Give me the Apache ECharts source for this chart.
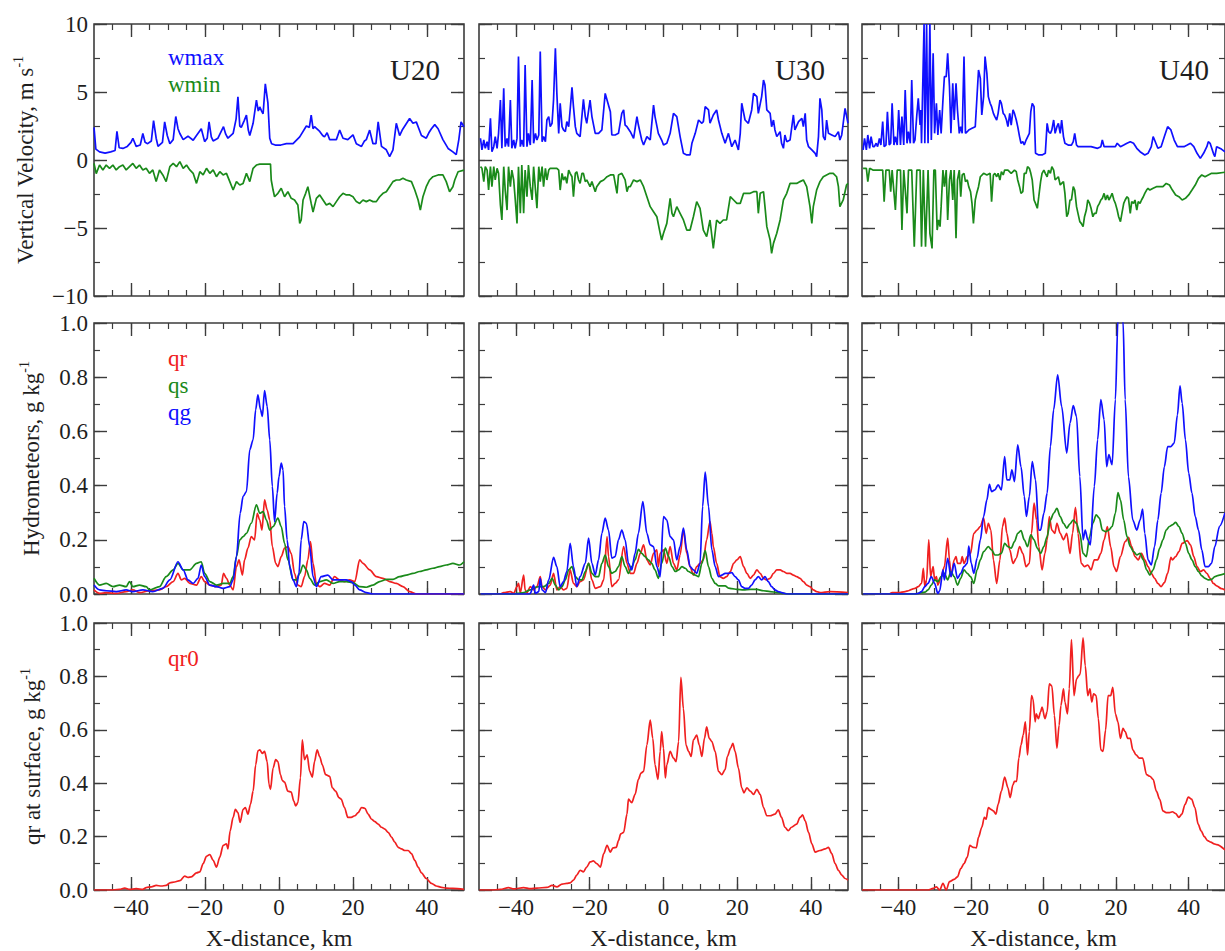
<!DOCTYPE html>
<html>
<head>
<meta charset="utf-8">
<script src="https://cdn.jsdelivr.net/npm/echarts@6/dist/echarts.min.js"></script>
<style>html,body{margin:0;padding:0;background:#fff;}#c{width:1225px;height:951px;}</style>
</head>
<body>
<div id="c"></div>
<script>
// ---------- tick labels / axis settings ----------
const X_LABELS = [-40, -20, 0, 20, 40];
const PANEL_TITLES = ['U20', 'U30', 'U40'];
const ROW_NAMES = ['Vertical Velocity, m s', 'Hydrometeors, g kg', 'qr at surface, g kg'];
const X_NAME = 'X-distance, km';

// ---------- Row 1: vertical velocity (x km, m/s) ----------
const u20_wmax = [[-50,2.4],[-49.5,0.8],[-48.5,0.6],[-47,0.5],[-45.5,0.6],[-44.3,0.7],[-43.8,2.1],[-43.2,0.9],[-42.2,0.85],[-41,1.0],[-40,1.3],[-39.5,1.6],[-38.6,1.0],[-37.5,1.1],[-36.8,1.95],[-36.2,1.3],[-35.5,1.2],[-34.5,1.4],[-33.9,2.9],[-33.2,1.6],[-32.7,1.0],[-31.5,1.3],[-30.9,2.8],[-30.2,1.8],[-29.5,1.2],[-28.6,1.5],[-27.9,3.2],[-27.3,2.3],[-26.8,1.95],[-25.9,1.5],[-24.6,1.75],[-23.2,1.45],[-22.3,1.8],[-21,2.3],[-20.1,1.35],[-19.4,1.6],[-18.9,2.8],[-18.3,1.7],[-17.8,1.4],[-16.5,1.6],[-15,2.45],[-14.4,1.9],[-13.8,1.6],[-12.4,1.95],[-11.6,3.0],[-11.1,4.65],[-10.6,2.5],[-10.2,2.4],[-9.4,2.9],[-8.8,3.3],[-8.3,2.2],[-7.9,1.8],[-7,2.7],[-6.1,4.4],[-5.6,3.6],[-5.2,3.9],[-4.7,3.6],[-4.3,3.4],[-3.7,5.6],[-3.0,4.2],[-2.5,1.6],[-2.0,1.2],[-1.0,1.1],[0.5,1.1],[2,1.2],[3.8,1.2],[5.6,1.7],[7.4,2.5],[8.2,2.4],[8.7,3.3],[9.2,2.3],[9.6,2.45],[11,2.1],[11.8,1.8],[12.3,1.7],[13,2.0],[13.7,1.5],[14.6,1.5],[15.5,1.5],[16.4,2.2],[17.3,1.6],[18.6,1.5],[20,1.85],[20.9,1.2],[22.3,1.0],[23.1,1.4],[23.6,1.5],[24.5,2.2],[25.4,1.2],[26.2,1.2],[26.8,2.8],[27.7,1.0],[29,0.75],[29.9,0.25],[30.8,0.75],[31.7,2.7],[32.6,1.8],[33.3,2.2],[34,2.5],[35.3,3.05],[36.2,2.7],[37.1,2.8],[38.5,1.8],[39.8,1.6],[40.5,2.0],[41.2,2.3],[42.1,2.6],[43,2.3],[44.3,1.5],[45.7,0.85],[47,0.6],[47.9,0.4],[48.6,1.5],[49.2,2.8],[50,2.45]];
const u20_wmin = [[-50,-0.25],[-49.4,-1.0],[-48.5,-0.37],[-47.6,-0.73],[-46.7,-0.37],[-45.8,-0.61],[-44.9,-0.37],[-44,-0.73],[-43.1,-0.49],[-42.2,-0.37],[-41.3,-0.73],[-40.4,-0.49],[-39.5,-0.25],[-38.6,-0.61],[-37.7,-0.37],[-36.8,-0.73],[-35.9,-0.61],[-35,-0.98],[-34.1,-0.73],[-33.2,-1.59],[-32.3,-0.73],[-31.4,-1.1],[-30.5,-1.59],[-29.5,-0.49],[-28.6,-0.25],[-27.7,-0.49],[-26.8,-0.12],[-25.9,-0.61],[-25,-0.37],[-24.1,-0.73],[-23.2,-0.98],[-22.3,-1.72],[-21.4,-0.86],[-20.5,-1.1],[-19.6,-0.61],[-18.7,-0.98],[-17.8,-0.73],[-16.9,-1.23],[-16,-0.86],[-15.1,-1.1],[-14.2,-0.98],[-13.3,-1.59],[-12.4,-2.21],[-11.5,-1.59],[-10.6,-1.84],[-9.7,-1.72],[-8.8,-0.98],[-7.9,-1.59],[-7,-0.61],[-6.1,-0.37],[-5.2,-0.3],[-3.4,-0.3],[-2.3,-0.3],[-2.1,-1.47],[-1.6,-2.21],[-1.2,-2.7],[-0.3,-2.45],[0.6,-2.08],[1.5,-2.7],[2.4,-2.33],[3.3,-2.82],[4.2,-2.94],[5.1,-3.31],[5.6,-4.66],[6,-4.41],[6.5,-2.94],[7.2,-2.45],[7.8,-1.96],[8.7,-3.19],[9.2,-3.82],[10.1,-2.82],[11,-2.57],[11.9,-2.94],[12.8,-3.31],[13.7,-3.19],[14.6,-3.43],[15.5,-3.06],[16.4,-2.7],[17.3,-2.45],[18.2,-2.57],[19.1,-2.57],[20,-2.7],[20.9,-3.06],[21.8,-3.19],[22.7,-2.94],[23.6,-3.06],[24.5,-2.94],[25.4,-3.06],[26.3,-3.06],[27.2,-2.7],[28.1,-2.45],[29,-2.33],[29.9,-1.96],[30.8,-1.59],[31.7,-1.47],[32.6,-1.47],[33.5,-1.35],[34.4,-1.47],[35.8,-1.59],[36.7,-2.21],[37.6,-2.94],[38.2,-3.68],[38.9,-2.7],[39.8,-1.96],[40.7,-1.47],[41.6,-1.23],[43,-1.1],[44.3,-1.1],[45.2,-1.59],[46.1,-2.33],[47,-1.96],[47.5,-1.47],[48.4,-0.86],[50,-0.74]];
const u30_wmax = [[-49.6,1.6],[-49.2,0.74],[-48.7,1.47],[-48.3,0.86],[-47.8,1.35],[-47.4,0.74],[-46.9,3.06],[-46.5,0.61],[-46.0,0.98],[-45.6,1.72],[-45.1,0.86],[-44.7,1.96],[-44.2,4.41],[-43.8,0.86],[-43.3,5.27],[-42.9,0.98],[-42.4,1.59],[-42.0,0.98],[-41.5,4.41],[-41.1,0.86],[-40.6,1.47],[-40.2,0.86],[-39.7,1.59],[-39.3,7.6],[-38.8,0.98],[-38.4,1.47],[-37.9,0.98],[-37.5,6.99],[-37.0,0.98],[-36.6,1.96],[-36.1,1.1],[-35.6,5.88],[-35.2,1.23],[-34.7,1.96],[-34.3,1.47],[-33.8,1.84],[-33.4,7.97],[-32.9,1.35],[-32.5,1.72],[-32.0,1.35],[-31.6,2.94],[-31.1,3.19],[-30.7,2.45],[-30.2,2.7],[-29.8,4.41],[-29.3,8.21],[-28.9,4.9],[-28.4,1.96],[-28.0,4.17],[-27.5,2.45],[-27.1,2.21],[-26.6,2.08],[-26.2,2.82],[-25.7,2.45],[-25.3,3.68],[-24.8,5.34],[-24.4,3.92],[-23.9,2.45],[-23.5,1.96],[-22.6,1.72],[-21.7,4.46],[-21.2,3.19],[-20.8,2.7],[-19.9,4.41],[-19.4,3.19],[-18.5,1.96],[-17.6,1.96],[-16.7,2.21],[-15.8,4.9],[-15.3,4.41],[-14.4,3.55],[-14.0,1.84],[-13.1,1.84],[-12.2,1.96],[-11.3,3.43],[-10.8,3.68],[-10.4,2.57],[-9.9,2.45],[-9.0,2.08],[-8.1,1.59],[-7.2,3.19],[-6.8,2.57],[-5.9,1.47],[-5.4,1.1],[-4.5,1.72],[-3.6,1.47],[-2.7,4.04],[-2.3,3.19],[-1.4,1.96],[-0.5,1.47],[0,1.1],[0.9,1.23],[1.8,1.96],[2.7,3.43],[3.6,3.19],[4.5,1.72],[5.4,0.49],[6.3,0.37],[7.2,0.37],[7.7,1.23],[8.6,1.96],[9.5,2.94],[10.4,2.7],[10.8,2.82],[11.3,3.92],[12.2,3.68],[12.6,2.7],[13.5,3.31],[14.4,3.68],[14.9,2.94],[15.8,1.96],[16.7,1.23],[17.6,1.96],[18.5,0.98],[19.4,1.47],[20.3,0.74],[20.8,1.96],[21.2,4.17],[22.1,2.94],[23.0,2.7],[23.9,3.68],[24.4,4.9],[25.3,4.66],[25.7,3.43],[26.6,4.66],[27.1,5.88],[27.5,5.51],[28.0,3.68],[28.9,3.43],[29.3,2.45],[29.8,2.94],[30.2,2.21],[30.7,1.72],[31.6,2.08],[32.0,1.23],[32.5,0.86],[32.9,1.84],[33.4,1.35],[34.3,1.47],[35.2,3.31],[35.6,2.21],[36.6,2.82],[37.5,3.06],[37.9,2.45],[38.4,3.43],[38.8,1.47],[39.3,0.98],[40.2,0.74],[41.1,0.49],[41.5,0.25],[42.0,1.72],[42.4,4.53],[42.9,3.68],[43.3,1.72],[43.8,1.47],[44.2,2.94],[44.7,1.96],[45.6,1.84],[46.5,1.72],[47.4,2.08],[47.8,1.47],[48.3,1.84],[48.7,2.7],[49.2,3.8],[50.0,2.7]];
const u30_wmin = [[-49.6,-0.49],[-49.2,-0.61],[-48.7,-1.59],[-48.3,-0.49],[-47.8,-0.74],[-47.4,-2.21],[-46.9,-0.49],[-46.5,-1.96],[-46.0,-0.49],[-45.6,-1.47],[-45.1,-0.61],[-44.7,-0.98],[-44.2,-3.31],[-43.8,-4.41],[-43.3,-0.49],[-42.9,-2.21],[-42.4,-3.68],[-42.0,-0.49],[-41.5,-1.96],[-41.1,-0.74],[-40.6,-1.47],[-40.2,-2.82],[-39.7,-4.66],[-39.3,-0.49],[-38.8,-3.92],[-38.4,-0.37],[-37.9,-3.92],[-37.5,-0.74],[-37.0,-2.7],[-36.6,-0.37],[-36.1,-1.96],[-35.6,-2.94],[-35.2,-0.49],[-34.7,-2.21],[-34.3,-3.55],[-33.8,-0.49],[-33.4,-1.59],[-32.9,-0.49],[-32.5,-1.96],[-32.0,-0.61],[-31.6,-1.47],[-31.1,-0.74],[-30.7,-0.61],[-29.8,-0.61],[-28.9,-0.61],[-28.4,-0.74],[-28.0,-2.21],[-27.5,-0.98],[-27.1,-1.47],[-26.6,-1.23],[-26.2,-1.72],[-25.7,-0.74],[-25.3,-0.98],[-24.8,-1.23],[-24.4,-2.7],[-23.9,-0.98],[-23.5,-0.86],[-23.0,-1.47],[-22.6,-1.72],[-22.1,-0.98],[-21.7,-0.98],[-21.2,-1.59],[-20.8,-1.47],[-19.9,-1.96],[-19.4,-1.59],[-18.5,-2.33],[-18.1,-1.96],[-17.1,-1.59],[-16.2,-1.47],[-15.3,-1.23],[-14.4,-1.1],[-13.5,-1.1],[-12.6,-2.45],[-12.2,-1.1],[-11.3,-0.98],[-10.4,-1.47],[-9.9,-2.33],[-9.5,-1.96],[-9.0,-1.96],[-8.1,-1.47],[-7.2,-1.59],[-6.3,-1.47],[-5.4,-1.96],[-4.5,-2.7],[-3.6,-3.43],[-2.7,-3.8],[-1.8,-4.17],[-0.9,-5.39],[-0.5,-5.88],[0,-5.39],[0.9,-4.66],[1.8,-2.82],[2.3,-3.92],[2.7,-4.17],[3.6,-3.43],[4.5,-3.92],[5.4,-4.41],[6.3,-5.15],[7.2,-5.15],[8.1,-4.17],[9.0,-3.06],[9.9,-3.55],[10.8,-5.15],[11.7,-5.64],[12.6,-4.41],[13.5,-6.5],[14.4,-4.41],[15.3,-4.66],[16.2,-4.41],[17.1,-4.41],[18.1,-2.7],[19.0,-2.94],[19.9,-3.19],[20.8,-3.19],[21.7,-2.45],[22.6,-2.45],[23.5,-2.45],[24.4,-2.33],[25.3,-2.33],[25.7,-3.92],[26.2,-2.45],[27.1,-2.33],[27.5,-3.43],[28.0,-4.9],[28.9,-5.88],[29.3,-6.86],[29.8,-6.13],[30.7,-5.39],[31.6,-4.41],[32.5,-2.94],[33.4,-2.45],[34.3,-1.72],[35.2,-1.72],[36.1,-1.72],[37.0,-1.59],[37.9,-1.47],[38.8,-1.96],[39.7,-3.43],[40.2,-4.66],[40.6,-3.43],[41.5,-2.21],[42.4,-1.59],[43.3,-1.23],[44.2,-1.1],[45.1,-0.98],[46.0,-0.98],[46.9,-1.23],[47.4,-1.96],[47.8,-3.43],[48.7,-2.94],[49.6,-1.84],[50,-1.72]];
const u40_wmax = [[-49.7,0.74],[-49.3,1.59],[-48.8,0.74],[-48.4,1.84],[-47.9,0.86],[-47.5,1.72],[-47.0,0.98],[-46.6,0.98],[-46.1,1.23],[-45.7,0.98],[-45.2,1.59],[-44.8,1.1],[-44.3,2.82],[-43.9,0.98],[-43.4,1.1],[-43.0,3.55],[-42.5,1.1],[-42.1,1.23],[-41.7,4.17],[-41.2,1.1],[-40.8,1.72],[-40.3,1.1],[-39.9,3.68],[-39.4,1.1],[-39.0,3.19],[-38.5,1.1],[-38.1,5.15],[-37.6,1.23],[-37.2,2.08],[-36.7,1.23],[-36.3,5.88],[-35.8,1.23],[-35.4,1.47],[-34.9,3.31],[-34.5,4.53],[-34.0,2.57],[-33.8,3.68],[-33.6,1.23],[-33.1,7.6],[-32.9,10],[-32.7,1.23],[-32.2,10],[-32.0,4.41],[-31.8,1.23],[-31.3,10],[-30.9,1.47],[-30.4,7.84],[-30.0,1.96],[-29.5,4.17],[-29.1,1.84],[-28.6,3.68],[-28.2,1.96],[-27.7,4.41],[-27.3,6.13],[-26.8,6.13],[-26.4,7.84],[-25.9,5.39],[-25.5,1.96],[-25.0,5.64],[-24.6,2.94],[-24.1,5.64],[-23.7,3.68],[-23.2,1.96],[-22.8,2.45],[-22.4,1.96],[-21.9,7.6],[-21.5,1.96],[-21.0,2.08],[-20.6,2.21],[-19.7,2.33],[-18.8,2.45],[-17.9,6.62],[-17.4,6.0],[-17.0,3.31],[-16.5,4.66],[-16.1,7.6],[-15.6,6.37],[-15.2,4.66],[-14.7,4.17],[-14.3,3.92],[-13.8,3.43],[-13.4,3.19],[-12.9,2.94],[-12.5,3.43],[-12.0,4.41],[-11.6,4.17],[-11.1,3.43],[-10.7,3.31],[-10.2,2.94],[-9.8,2.45],[-9.3,3.43],[-8.9,2.57],[-8.4,3.68],[-8.0,3.43],[-7.5,2.94],[-7.1,2.45],[-6.6,1.72],[-6.2,1.23],[-5.7,1.35],[-5.3,1.1],[-4.8,1.47],[-3.9,1.96],[-3.5,3.55],[-3.1,4.17],[-2.6,3.92],[-2.2,0.49],[-1.3,0.37],[-0.4,0.37],[0.5,0.49],[1.0,2.7],[1.4,2.08],[1.9,1.96],[2.3,2.21],[2.8,2.94],[3.2,1.96],[3.7,2.45],[4.1,2.7],[4.6,1.96],[5.0,2.94],[5.5,1.72],[5.9,1.23],[6.8,1.1],[7.7,1.1],[8.2,1.35],[8.6,1.96],[9.1,1.1],[9.5,0.98],[11.3,0.98],[13.1,0.98],[14.9,0.86],[15.8,0.98],[16.2,1.47],[16.7,0.98],[18.5,0.98],[19.8,0.98],[20.3,1.23],[21.2,0.98],[22.1,1.1],[23.0,1.23],[23.9,1.35],[24.8,1.23],[25.7,0.86],[26.6,0.61],[27.9,0.37],[28.8,0.49],[29.7,0.98],[30.2,1.72],[30.6,1.47],[31.5,0.86],[32.4,0.98],[33.3,1.72],[34.2,2.45],[35.1,2.21],[36.0,1.47],[36.9,0.98],[37.8,0.98],[38.7,0.98],[39.6,1.1],[40.5,1.23],[41.4,0.98],[42.3,0.49],[43.2,0.12],[44.1,0.49],[45.0,0.98],[45.4,1.35],[45.9,1.23],[46.8,0.49],[47.2,0.25],[47.7,0.98],[49,0.8],[50,0.6]];
const u40_wmin = [[-49.7,-0.61],[-48.8,-0.61],[-48.4,-1.59],[-47.9,-0.61],[-47.0,-0.74],[-46.1,-0.74],[-45.2,-0.74],[-44.3,-0.74],[-43.9,-3.06],[-43.4,-0.74],[-42.5,-0.74],[-42.1,-2.33],[-41.7,-0.74],[-40.8,-3.68],[-40.3,-0.74],[-39.4,-0.74],[-39.0,-5.15],[-38.5,-0.74],[-37.6,-3.92],[-37.2,-0.74],[-36.3,-0.74],[-35.6,-6.37],[-34.9,-0.74],[-34.0,-0.74],[-33.6,-6.37],[-33.1,-0.74],[-32.5,-6.37],[-31.8,-0.74],[-31.3,-5.39],[-30.7,-6.5],[-30.2,-0.74],[-29.8,-0.74],[-29.3,-5.15],[-28.9,-4.41],[-28.5,-4.9],[-28.2,-3.43],[-27.7,-0.74],[-27.3,-1.96],[-26.8,-0.74],[-26.4,-4.41],[-25.9,-1.47],[-25.5,-0.74],[-25.0,-2.94],[-24.6,-0.74],[-24.1,-5.76],[-23.7,-1.47],[-23.2,-0.74],[-22.8,-2.7],[-22.4,-1.1],[-21.9,-0.98],[-21.5,-1.59],[-21.0,-1.47],[-20.6,-1.96],[-20.1,-2.33],[-19.7,-3.19],[-19.3,-4.66],[-18.8,-2.94],[-18.4,-2.45],[-17.9,-1.96],[-17.4,-1.23],[-16.5,-0.98],[-15.6,-1.1],[-14.7,-0.98],[-14.3,-3.06],[-13.8,-1.1],[-13.4,-0.98],[-12.9,-1.23],[-12.5,-0.98],[-12.0,-1.47],[-11.6,-0.86],[-11.1,-1.1],[-10.7,-0.74],[-9.8,-0.74],[-8.9,-0.98],[-8.0,-0.74],[-7.5,-0.86],[-7.1,-1.47],[-6.6,-1.96],[-6.2,-2.45],[-5.7,-2.33],[-5.3,-0.98],[-4.8,-0.98],[-4.4,-0.49],[-3.9,-0.61],[-3.5,-0.98],[-3.1,-1.47],[-2.6,-2.94],[-2.2,-3.19],[-1.7,-3.55],[-1.3,-2.7],[-0.8,-1.59],[-0.4,-0.98],[0.1,-0.74],[0.5,-0.98],[1.0,-1.23],[1.4,-0.74],[1.9,-0.98],[2.3,-0.49],[2.8,-0.74],[3.2,-1.47],[4.1,-1.23],[4.6,-1.84],[5.0,-1.72],[5.5,-1.59],[5.9,-2.45],[6.4,-4.17],[6.8,-3.92],[7.3,-2.94],[7.7,-2.94],[8.2,-1.96],[8.6,-2.21],[9.1,-3.43],[9.5,-3.92],[10.0,-4.53],[10.4,-4.66],[10.9,-4.9],[11.3,-4.17],[11.8,-3.68],[12.2,-2.94],[12.7,-3.19],[13.1,-3.55],[13.6,-4.17],[14.0,-3.92],[14.5,-3.92],[14.9,-3.43],[15.4,-3.19],[15.8,-2.94],[16.2,-2.82],[16.7,-2.45],[17.1,-2.94],[17.6,-2.57],[18.0,-2.94],[18.5,-2.7],[18.9,-2.45],[19.4,-2.94],[19.8,-3.19],[20.3,-3.68],[20.7,-4.17],[21.2,-4.53],[21.6,-3.92],[22.1,-3.19],[22.5,-2.94],[23.0,-2.7],[23.4,-2.82],[23.9,-3.92],[24.3,-3.06],[24.8,-3.19],[25.2,-2.94],[25.7,-3.68],[26.1,-3.06],[26.6,-3.19],[27.0,-2.94],[27.5,-2.7],[27.9,-2.45],[28.4,-2.21],[28.8,-2.08],[29.3,-2.21],[30.2,-2.08],[31.1,-1.96],[32.0,-1.96],[32.9,-1.96],[33.8,-1.72],[34.7,-1.84],[35.5,-2.21],[36.4,-2.57],[37.3,-2.7],[38.2,-2.94],[39.1,-2.82],[40.0,-2.57],[40.9,-2.21],[41.8,-1.84],[42.7,-1.35],[43.6,-1.1],[44.5,-1.23],[45.4,-1.1],[46.3,-0.98],[47.2,-0.98],[47.7,-0.98],[50,-0.9]];

// ---------- Row 2: hydrometeors (x km, g/kg) ----------
const u20_qr = [[-50,0.015],[-48.5,0.002],[-46.7,0.005],[-44,0.002],[-41.3,0.009],[-39.5,0.015],[-37.7,0.005],[-35,0.012],[-32.3,0.015],[-30.5,0.027],[-28.6,0.046],[-27.3,0.076],[-26.4,0.052],[-25.5,0.058],[-24.1,0.039],[-22.3,0.033],[-21,0.064],[-20.1,0.046],[-18.7,0.033],[-16.9,0.027],[-15.6,0.033],[-15,0.076],[-14.2,0.058],[-13.3,0.033],[-12.4,0.015],[-11.5,0.101],[-10.8,0.126],[-9.9,0.07],[-9.3,0.126],[-8.4,0.169],[-7.5,0.212],[-6.6,0.2],[-5.9,0.298],[-5.2,0.273],[-4.6,0.236],[-3.9,0.347],[-3.2,0.31],[-2.5,0.273],[-1.8,0.175],[-0.9,0.113],[-0.3,0.101],[0.6,0.138],[1.5,0.169],[2.4,0.175],[3.3,0.15],[4.2,0.076],[5.1,0.033],[6,0.027],[6.9,0.064],[7.8,0.126],[8.5,0.193],[9.2,0.113],[10.1,0.039],[11,0.027],[12.3,0.039],[13.7,0.033],[15,0.064],[16.4,0.052],[17.7,0.046],[19.1,0.052],[20.5,0.046],[21.8,0.126],[22.7,0.113],[24.5,0.089],[26.3,0.064],[28.1,0.058],[29.9,0.046],[31.7,0.039],[33.5,0.027],[35.3,0.009],[37.1,0],[50,0]];
const u20_qs = [[-50,0.058],[-48.5,0.033],[-46.7,0.039],[-44.9,0.027],[-43.1,0.033],[-41.3,0.027],[-40.4,0.046],[-39.5,0.027],[-37.7,0.033],[-35.9,0.027],[-35,0.015],[-32.3,0.027],[-30.5,0.064],[-28.6,0.089],[-27.3,0.113],[-25.9,0.089],[-24.1,0.089],[-22.3,0.113],[-21,0.119],[-20.1,0.076],[-18.7,0.046],[-16.9,0.033],[-15.1,0.039],[-13.3,0.039],[-12.4,0.064],[-11.5,0.138],[-10.6,0.2],[-9.7,0.212],[-8.8,0.224],[-7.5,0.261],[-6.1,0.329],[-5.2,0.298],[-4.3,0.304],[-3.4,0.273],[-2.5,0.236],[-1.6,0.249],[-0.3,0.28],[0.6,0.249],[1.5,0.187],[2.4,0.126],[3.8,0.052],[4.7,0.052],[5.6,0.076],[6.5,0.107],[7.4,0.089],[8.3,0.058],[9.6,0.033],[11,0.046],[12.8,0.052],[14.6,0.039],[16.4,0.046],[18.2,0.046],[20,0.042],[21.8,0.027],[23.6,0.025],[25.4,0.033],[27.2,0.046],[29,0.054],[30.8,0.054],[32.6,0.064],[34.4,0.07],[36.2,0.076],[38,0.083],[39.8,0.089],[41.6,0.095],[43.4,0.101],[45.2,0.107],[47,0.113],[48.8,0.107],[50,0.119]];
const u20_qg = [[-50,0.033],[-48.5,0.015],[-46.7,0.012],[-44,0.009],[-41.3,0.015],[-39.5,0.009],[-36.8,0.015],[-34.1,0.009],[-31.4,0.021],[-29.5,0.052],[-27.3,0.119],[-25.9,0.089],[-24.6,0.052],[-23.2,0.039],[-21.9,0.058],[-21,0.107],[-20.1,0.064],[-18.7,0.033],[-16.9,0.027],[-15.1,0.021],[-13.3,0.027],[-12.4,0.052],[-11.5,0.138],[-10.5,0.298],[-9.7,0.36],[-8.8,0.378],[-7.9,0.532],[-7,0.569],[-6.3,0.68],[-5.7,0.735],[-5.0,0.68],[-4.5,0.655],[-3.9,0.751],[-3.2,0.692],[-2.5,0.569],[-1.8,0.397],[-1.2,0.267],[-0.5,0.372],[0,0.433],[0.6,0.483],[1.1,0.458],[1.5,0.323],[2.2,0.2],[2.9,0.101],[3.8,0.052],[4.7,0.027],[5.4,0.076],[6,0.2],[6.7,0.267],[7.4,0.261],[8.3,0.175],[9.2,0.064],[10.1,0.027],[11.4,0.064],[13.2,0.07],[14.6,0.052],[16.4,0.052],[18.2,0.052],[19.5,0.046],[20.5,0.033],[21.8,0.015],[23.6,0.005],[25.4,0],[50,0]];
const u30_qr = [[-49.6,0],[-44.2,0],[-43.3,0.005],[-41.5,0.009],[-40.6,0.002],[-39.7,0.027],[-39.3,0.039],[-38.8,0.005],[-37.9,0.07],[-37.5,0.015],[-37,0.005],[-36.1,0.027],[-35.2,0.015],[-34.3,0.027],[-33.4,0.064],[-32.9,0.027],[-32,0.015],[-30.7,0.033],[-29.8,0.076],[-28.9,0.015],[-28,0.027],[-27.1,0.015],[-26.2,0.021],[-25.3,0.089],[-24.4,0.039],[-23.5,0.027],[-22.6,0.046],[-21.7,0.052],[-20.3,0.113],[-19.4,0.052],[-18.5,0.021],[-17.1,0.027],[-16.2,0.052],[-15.3,0.212],[-14.9,0.138],[-14,0.027],[-13.1,0.039],[-12.2,0.052],[-10.8,0.175],[-9.9,0.113],[-9,0.076],[-8.1,0.076],[-7.2,0.113],[-6.3,0.15],[-5.4,0.181],[-4.5,0.126],[-3.6,0.107],[-2.7,0.15],[-1.8,0.163],[-1.4,0.101],[-0.9,0.15],[0,0.163],[0.9,0.113],[1.8,0.175],[2.7,0.113],[3.6,0.089],[4.5,0.144],[5.4,0.236],[6.3,0.15],[7.2,0.101],[8.1,0.07],[9,0.101],[9.9,0.113],[10.8,0.126],[11.7,0.2],[12.6,0.267],[13.1,0.224],[13.5,0.175],[14.4,0.113],[15.3,0.064],[16.2,0.058],[17.1,0.064],[18.1,0.083],[19,0.113],[19.9,0.126],[20.8,0.138],[21.7,0.101],[22.6,0.076],[23.5,0.058],[24.4,0.07],[25.3,0.089],[26.2,0.076],[27.1,0.058],[27.9,0.052],[28.9,0.058],[29.8,0.076],[30.7,0.089],[31.6,0.089],[32.5,0.083],[33.4,0.076],[34.3,0.076],[35.2,0.07],[36.1,0.064],[37,0.058],[37.9,0.046],[38.8,0.033],[39.7,0.027],[40.6,0.015],[41.5,0.009],[42.4,0.005],[45.1,0.009],[50,0.005]];
const u30_qs = [[-49.6,0],[-40.6,0],[-39.7,0.002],[-37.9,0.005],[-36.1,0.015],[-34.7,0.025],[-33.8,0.027],[-32.5,0.027],[-31.1,0.039],[-30.2,0.058],[-29.3,0.033],[-28.4,0.015],[-27.5,0.027],[-26.6,0.052],[-25.7,0.089],[-24.8,0.101],[-23.9,0.064],[-23,0.052],[-22.1,0.052],[-21.2,0.083],[-20.3,0.113],[-19.4,0.076],[-18.5,0.064],[-17.6,0.064],[-16.7,0.113],[-15.8,0.144],[-14.9,0.101],[-14,0.076],[-13.1,0.083],[-12.2,0.101],[-11.3,0.138],[-10.4,0.101],[-9.5,0.076],[-8.6,0.101],[-7.7,0.126],[-6.8,0.165],[-5.9,0.15],[-5,0.138],[-4.1,0.126],[-3.2,0.113],[-2.3,0.089],[-1.4,0.058],[-0.5,0.113],[0.5,0.169],[1.4,0.138],[2.3,0.101],[3.2,0.083],[4.1,0.089],[5,0.101],[5.9,0.095],[6.8,0.083],[7.7,0.076],[8.6,0.07],[9.5,0.064],[10.4,0.113],[11.3,0.16],[12.2,0.101],[13.1,0.058],[14,0.039],[14.9,0.03],[15.8,0.03],[16.7,0.03],[17.6,0.022],[18.5,0.02],[19.9,0.017],[21.7,0.015],[23.5,0.017],[25.3,0.017],[27.1,0.012],[28.9,0.009],[30.7,0.006],[32.5,0.002],[34.3,0],[50,0]];
const u30_qg = [[-49.6,0],[-36.6,0],[-36.1,0.002],[-35.2,0.033],[-34.7,0.002],[-33.8,0.009],[-33.4,0.058],[-32.9,0.015],[-32,0.005],[-31.1,0.052],[-29.8,0.135],[-28.9,0.101],[-28,0.027],[-27.1,0.046],[-26.2,0.083],[-25.3,0.187],[-24.4,0.101],[-23.5,0.027],[-22.6,0.064],[-21.2,0.113],[-20.3,0.206],[-19.4,0.113],[-18.5,0.07],[-17.6,0.126],[-16.7,0.224],[-15.8,0.28],[-14.9,0.236],[-14,0.132],[-13.1,0.138],[-12.2,0.2],[-11.3,0.236],[-10.4,0.2],[-9.5,0.113],[-8.6,0.089],[-7.7,0.15],[-6.8,0.224],[-5.6,0.341],[-4.5,0.224],[-3.6,0.181],[-2.7,0.175],[-1.8,0.101],[-0.9,0.064],[0,0.286],[0.9,0.273],[1.8,0.212],[2.7,0.2],[3.6,0.126],[4.5,0.175],[5.4,0.243],[6.3,0.163],[7.2,0.101],[8.1,0.089],[9,0.076],[9.9,0.113],[10.6,0.323],[11.3,0.45],[12.2,0.323],[13.1,0.163],[14,0.101],[14.9,0.064],[15.8,0.07],[16.7,0.076],[17.6,0.076],[18.5,0.079],[19.4,0.064],[20.3,0.052],[21.2,0.027],[22.1,0.021],[23,0.021],[23.9,0.033],[24.8,0.052],[25.7,0.064],[26.6,0.052],[27.5,0.064],[28.4,0.046],[29.3,0.027],[30.2,0.015],[31.1,0.009],[32,0.005],[33.4,0],[50,0]];
const u40_qr = [[-49.7,0],[-42.5,0],[-41.7,0.005],[-39.9,0.005],[-38.1,0.009],[-37.2,0.012],[-36.3,0.017],[-35.4,0.021],[-34.5,0.027],[-33.6,0.039],[-33.1,0.095],[-32.7,0.027],[-32.2,0.052],[-31.6,0.2],[-31.1,0.064],[-30.4,0.101],[-30,0.052],[-29.5,0.064],[-29.1,0.033],[-28.2,0.064],[-27.3,0.101],[-26.4,0.206],[-25.9,0.126],[-25.5,0.064],[-24.6,0.126],[-24.1,0.138],[-23.7,0.113],[-22.8,0.113],[-22.4,0.138],[-21.9,0.113],[-21,0.138],[-20.1,0.15],[-19.2,0.224],[-18.3,0.236],[-17.4,0.249],[-16.5,0.28],[-15.8,0.224],[-15.2,0.261],[-14.5,0.236],[-13.8,0.126],[-12.9,0.039],[-12,0.126],[-11.3,0.249],[-10.7,0.28],[-10.1,0.224],[-9.3,0.163],[-8.4,0.113],[-7.5,0.132],[-6.6,0.175],[-5.7,0.15],[-4.8,0.101],[-3.9,0.113],[-3.3,0.224],[-2.6,0.335],[-1.9,0.273],[-1.3,0.175],[-0.4,0.089],[0.4,0.15],[1,0.2],[1.6,0.286],[2.3,0.236],[3.1,0.224],[3.7,0.261],[4.6,0.224],[5.5,0.2],[6.4,0.224],[7.3,0.15],[8,0.224],[8.8,0.32],[9.5,0.224],[10.4,0.113],[11.3,0.101],[12.2,0.107],[13.1,0.089],[14,0.126],[14.9,0.126],[15.8,0.15],[16.7,0.2],[17.6,0.249],[18.5,0.175],[19.4,0.101],[20.1,0.083],[21.2,0.138],[22.5,0.193],[23.4,0.209],[24.3,0.175],[25.2,0.138],[26.1,0.126],[27,0.15],[27.9,0.126],[28.8,0.101],[29.7,0.076],[30.6,0.058],[31.5,0.039],[32.4,0.027],[33.3,0.042],[34.2,0.076],[35.1,0.135],[35.5,0.126],[36.4,0.138],[37.3,0.156],[38.2,0.187],[39.6,0.197],[40.5,0.181],[41.4,0.138],[42.3,0.101],[43.2,0.083],[44.1,0.089],[45,0.076],[45.9,0.058],[46.8,0.039],[47.7,0.03],[49,0.02],[50,0.015]];
const u40_qs = [[-49.7,0],[-35.4,0],[-34.5,0.002],[-33.6,0.005],[-32.7,0.007],[-31.8,0.015],[-30.9,0.033],[-30,0.052],[-29.1,0.046],[-28.2,0.064],[-27.3,0.076],[-26.4,0.052],[-25.5,0.083],[-24.6,0.064],[-23.7,0.033],[-22.8,0.058],[-21.9,0.089],[-21,0.076],[-20.1,0.064],[-19.2,0.039],[-18.3,0.089],[-17.4,0.126],[-16.5,0.156],[-15.2,0.175],[-14.3,0.163],[-13.4,0.144],[-12.5,0.144],[-11.6,0.15],[-10.7,0.187],[-9.8,0.175],[-8.9,0.169],[-8,0.193],[-7.1,0.224],[-6.2,0.234],[-5.3,0.2],[-4.4,0.175],[-3.5,0.218],[-2.6,0.2],[-1.7,0.169],[-0.8,0.15],[0.1,0.175],[1,0.212],[1.9,0.273],[2.8,0.298],[3.7,0.316],[4.6,0.286],[5.5,0.261],[6.4,0.243],[7.3,0.259],[8.2,0.273],[9.1,0.261],[10,0.224],[10.9,0.15],[11.8,0.138],[12.7,0.212],[13.6,0.261],[14.5,0.292],[15.4,0.28],[16.2,0.236],[17.1,0.23],[18,0.236],[18.9,0.249],[19.8,0.298],[20.5,0.374],[21.2,0.347],[22.1,0.273],[23,0.212],[23.9,0.175],[24.8,0.156],[25.7,0.144],[26.6,0.15],[27.5,0.126],[28.4,0.089],[29.3,0.07],[30.2,0.089],[31.1,0.126],[32,0.169],[32.9,0.2],[33.8,0.236],[34.7,0.249],[35.5,0.255],[36.4,0.264],[37.3,0.249],[38.2,0.224],[39.1,0.187],[40,0.15],[40.9,0.126],[41.8,0.101],[42.7,0.083],[43.6,0.067],[44.5,0.058],[45.4,0.052],[46.3,0.054],[47.2,0.064],[48.5,0.07],[50,0.075]];
const u40_qg = [[-49.7,0],[-35.4,0],[-34.5,0.002],[-33.6,0.009],[-32.7,0.027],[-31.8,0.039],[-30.9,0.064],[-30,0.039],[-29.1,0.002],[-28.6,0.012],[-27.7,0.089],[-27.3,0.052],[-26.4,0.132],[-25.5,0.064],[-24.6,0.113],[-23.7,0.058],[-22.8,0.076],[-21.9,0.101],[-21,0.113],[-20.6,0.177],[-19.9,0.113],[-19.2,0.076],[-18.3,0.132],[-17.4,0.2],[-16.5,0.286],[-15.6,0.347],[-14.9,0.405],[-14.3,0.378],[-13.4,0.384],[-12.5,0.403],[-11.6,0.384],[-10.7,0.507],[-10.1,0.421],[-9.3,0.421],[-8.7,0.458],[-8,0.415],[-7.1,0.55],[-6.2,0.47],[-5.3,0.36],[-4.7,0.286],[-3.9,0.36],[-3.1,0.489],[-2.2,0.421],[-1.3,0.236],[-0.8,0.236],[0.1,0.298],[1,0.372],[1.9,0.544],[2.8,0.68],[3.9,0.809],[5,0.692],[6.4,0.52],[7.3,0.631],[8.2,0.695],[9.1,0.655],[10,0.433],[10.9,0.2],[11.5,0.236],[12.2,0.2],[12.9,0.181],[14,0.397],[14.9,0.569],[15.8,0.717],[16.7,0.643],[17.4,0.47],[18,0.514],[18.9,0.477],[19.8,0.717],[20.5,1.01],[21.2,1.09],[21.9,1.01],[22.5,0.717],[23.4,0.433],[24.6,0.273],[25.7,0.236],[26.6,0.273],[27.3,0.313],[27.9,0.224],[28.8,0.126],[29.7,0.107],[30.6,0.175],[31.5,0.273],[32.4,0.372],[33.3,0.47],[34.2,0.544],[35.1,0.544],[36,0.557],[36.9,0.661],[37.6,0.768],[38.2,0.704],[39.1,0.569],[40,0.446],[40.9,0.372],[41.8,0.286],[42.7,0.236],[43.6,0.163],[44.5,0.101],[45.4,0.101],[46.3,0.113],[47.2,0.175],[48.5,0.25],[50,0.3]];

// ---------- Row 3: qr at surface (x km, g/kg) ----------
const u20_qr0 = [[-50,0],[-45.8,0],[-43.1,0.002],[-41.7,0.007],[-40.4,0.002],[-38.6,0.005],[-36.8,0.002],[-35.9,0.009],[-34.5,0.012],[-33.2,0.017],[-31.8,0.015],[-30.5,0.017],[-29.5,0.027],[-28.2,0.03],[-26.8,0.035],[-25.5,0.052],[-24.6,0.047],[-23.7,0.049],[-22.3,0.064],[-21.4,0.068],[-20.5,0.099],[-19.6,0.126],[-18.7,0.133],[-17.8,0.111],[-16.9,0.086],[-16,0.123],[-15.1,0.167],[-14.2,0.173],[-13.8,0.154],[-13.2,0.222],[-12.4,0.272],[-11.8,0.302],[-11.1,0.29],[-10.5,0.253],[-9.7,0.302],[-9.1,0.309],[-8.4,0.284],[-7.7,0.321],[-7,0.37],[-6.3,0.469],[-5.7,0.521],[-5.2,0.525],[-4.5,0.512],[-3.9,0.519],[-3.2,0.481],[-2.7,0.395],[-2.3,0.377],[-1.6,0.457],[-0.9,0.488],[-0.3,0.481],[0.4,0.432],[0.9,0.41],[1.5,0.404],[2.4,0.37],[3.3,0.367],[4,0.333],[4.5,0.315],[5.1,0.327],[5.8,0.42],[6.3,0.562],[6.9,0.488],[7.6,0.506],[8.3,0.444],[9,0.423],[9.6,0.481],[10.3,0.525],[11,0.5],[11.7,0.469],[12.6,0.432],[13.7,0.426],[14.4,0.383],[15.3,0.37],[16.2,0.346],[16.8,0.34],[17.7,0.309],[18.6,0.272],[19.5,0.272],[20.5,0.278],[21.4,0.29],[22.3,0.309],[23.2,0.306],[24.1,0.284],[25,0.265],[25.9,0.256],[26.8,0.247],[27.7,0.235],[28.6,0.228],[29.5,0.216],[30.4,0.198],[31.3,0.179],[32.2,0.16],[33.1,0.154],[34,0.148],[34.9,0.148],[35.8,0.136],[36.7,0.111],[37.6,0.086],[38.5,0.064],[39.8,0.043],[41.2,0.025],[42.5,0.015],[43.9,0.01],[45.2,0.007],[47,0.006],[50,0.002]];
const u30_qr0 = [[-49.9,0],[-46.9,0],[-44.2,0.002],[-42,0.009],[-40.6,0.004],[-37.9,0.009],[-36.1,0.005],[-34.3,0.007],[-31.6,0.01],[-30.2,0.017],[-28.9,0.012],[-27.5,0.022],[-26.2,0.025],[-25.3,0.027],[-24.4,0.037],[-23.5,0.056],[-22.6,0.074],[-21.7,0.068],[-20.8,0.086],[-19.9,0.105],[-19,0.109],[-18.1,0.099],[-17.1,0.086],[-16.2,0.136],[-15.3,0.167],[-14.4,0.142],[-13.7,0.158],[-12.8,0.16],[-12.2,0.185],[-11.6,0.21],[-10.8,0.216],[-9.9,0.284],[-9.5,0.34],[-8.6,0.327],[-7.7,0.358],[-6.8,0.414],[-6.1,0.438],[-5.4,0.444],[-4.5,0.543],[-3.6,0.636],[-2.9,0.568],[-2.3,0.469],[-1.5,0.414],[-0.9,0.519],[-0.5,0.593],[0,0.531],[0.5,0.42],[0.9,0.469],[1.8,0.519],[2.7,0.494],[3.4,0.481],[4.1,0.556],[4.7,0.796],[5.4,0.679],[6.1,0.543],[6.8,0.519],[7.5,0.5],[8.1,0.562],[9,0.58],[9.7,0.543],[10.4,0.5],[11.1,0.568],[11.7,0.611],[12.4,0.568],[13.1,0.556],[14,0.519],[14.9,0.444],[15.8,0.432],[16.7,0.451],[17.3,0.5],[18.2,0.531],[18.8,0.549],[19.4,0.519],[20.3,0.457],[21.2,0.383],[21.8,0.364],[22.6,0.383],[23.5,0.37],[24.4,0.358],[25.3,0.377],[26.2,0.358],[27.1,0.309],[28,0.278],[28.9,0.278],[30.2,0.284],[31.1,0.3],[32,0.272],[32.9,0.235],[33.8,0.222],[34.7,0.235],[36.1,0.247],[37,0.272],[37.7,0.281],[38.4,0.259],[39.3,0.216],[40.2,0.173],[41.1,0.142],[42.4,0.148],[43.8,0.154],[44.7,0.16],[45.6,0.136],[46.5,0.099],[47.4,0.074],[48.3,0.056],[49.2,0.043],[50,0.037]];
const u40_qr0 = [[-50,0],[-39.9,0],[-31.8,0],[-30.4,0.006],[-29.5,0.012],[-28.6,0],[-27.7,0.025],[-26.8,0],[-25.9,0.031],[-24.6,0.04],[-23.7,0.049],[-22.8,0.08],[-21.9,0.099],[-21,0.123],[-20.3,0.167],[-19.4,0.16],[-18.5,0.158],[-17.9,0.198],[-17,0.235],[-16.3,0.272],[-15.8,0.265],[-15.2,0.309],[-14.5,0.302],[-13.8,0.296],[-13.1,0.284],[-12.5,0.321],[-11.6,0.37],[-10.7,0.423],[-9.8,0.383],[-9.2,0.346],[-8.4,0.395],[-8,0.407],[-7.4,0.407],[-6.8,0.494],[-6.2,0.543],[-5.6,0.58],[-5,0.63],[-4.4,0.506],[-3.9,0.593],[-3.3,0.728],[-2.9,0.716],[-2.3,0.63],[-2,0.66],[-1.4,0.642],[-0.8,0.667],[-0.4,0.685],[0.4,0.642],[1,0.667],[1.6,0.772],[2.3,0.765],[3,0.654],[3.7,0.531],[4.3,0.617],[4.8,0.691],[5.5,0.753],[5.9,0.704],[6.6,0.66],[7.1,0.753],[7.7,0.938],[8.4,0.728],[9.1,0.79],[9.7,0.802],[10.1,0.809],[10.9,0.944],[11.5,0.84],[12.2,0.728],[12.8,0.753],[13.3,0.704],[13.8,0.735],[14.5,0.728],[15.1,0.642],[15.8,0.525],[16.4,0.519],[17.1,0.599],[17.8,0.728],[18.5,0.728],[19.1,0.759],[19.8,0.66],[20.5,0.63],[21.2,0.568],[21.9,0.605],[22.5,0.593],[23.2,0.568],[23.9,0.568],[24.6,0.525],[25.5,0.506],[26.4,0.494],[27.3,0.494],[28.4,0.432],[29.3,0.426],[30.2,0.414],[31.1,0.37],[32,0.34],[32.9,0.296],[33.8,0.29],[34.7,0.29],[35.5,0.293],[36.4,0.286],[37.3,0.272],[38.1,0.284],[39,0.321],[39.9,0.348],[40.8,0.34],[41.7,0.309],[42.6,0.247],[43.4,0.222],[44.3,0.2],[45.2,0.185],[46.1,0.179],[47,0.173],[47.7,0.17],[50,0.15]];

// ---------- styling / layout ----------
const FONT = 'Liberation Serif';
const BLUE = '#1010ff', GREEN = '#1a8a1a', RED = '#f02020';
const FRAME = '#3c3c3c', TEXT = '#1e1e1e';
const COLS = [{left: 94, width: 370}, {left: 479, width: 369}, {left: 862, width: 371}];
const ROWS = [{top: 24, height: 272}, {top: 323, height: 271}, {top: 623, height: 270}];
const Y_RANGES = [{min: -10, max: 10, major: 5, minor: 2.5}, {min: 0, max: 1, major: 0.2, minor: 0.1}, {min: 0, max: 1, major: 0.2, minor: 0.1}];
const ROW_NAME_GAP = [57, 51, 50];
const ROW_SMOOTH = [false, 0.3, 0.3];

const PANEL_SERIES = [
  [[{name: 'wmax', data: u20_wmax, color: BLUE}, {name: 'wmin', data: u20_wmin, color: GREEN}],
   [{name: 'wmax', data: u30_wmax, color: BLUE}, {name: 'wmin', data: u30_wmin, color: GREEN}],
   [{name: 'wmax', data: u40_wmax, color: BLUE}, {name: 'wmin', data: u40_wmin, color: GREEN}]],
  [[{name: 'qr', data: u20_qr, color: RED}, {name: 'qs', data: u20_qs, color: GREEN}, {name: 'qg', data: u20_qg, color: BLUE}],
   [{name: 'qr', data: u30_qr, color: RED}, {name: 'qs', data: u30_qs, color: GREEN}, {name: 'qg', data: u30_qg, color: BLUE}],
   [{name: 'qr', data: u40_qr, color: RED}, {name: 'qs', data: u40_qs, color: GREEN}, {name: 'qg', data: u40_qg, color: BLUE}]],
  [[{name: 'qr0', data: u20_qr0, color: RED}],
   [{name: 'qr0', data: u30_qr0, color: RED}],
   [{name: 'qr0', data: u40_qr0, color: RED}]]
];

function fmtNum(v, row) {
  if (row === 0) return v < 0 ? '\u2212' + Math.abs(v) : String(v);
  return (Math.round(v * 10) / 10).toFixed(1);
}
function fmtX(v) { return v < 0 ? '\u2212' + Math.abs(v) : String(v); }

const grids = [], xAxes = [], yAxes = [], series = [];
const X_MINOR = [];
for (let v = -45; v <= 45; v += 5) X_MINOR.push(v);
const LABEL_STYLE = {fontFamily: FONT, fontSize: 23, color: TEXT,
  rich: {n: {fontFamily: FONT, fontSize: 23, color: TEXT}}};

for (let r = 0; r < 3; r++) {
  for (let c = 0; c < 3; c++) {
    const g = grids.length;
    grids.push({left: COLS[c].left, top: ROWS[r].top, width: COLS[c].width, height: ROWS[r].height,
      show: true, borderColor: FRAME, borderWidth: 1.6, backgroundColor: 'transparent', containLabel: false});
    const yr = Y_RANGES[r];
    const base = {gridIndex: g, type: 'value', axisLine: {show: false, onZero: false}, splitLine: {show: false}};
    const xMajor = (pos, labels) => Object.assign({}, base, {min: -50, max: 50, position: pos,
      axisTick: {show: true, inside: true, length: 13, customValues: X_LABELS, lineStyle: {color: FRAME, width: 1.4}},
      axisLabel: Object.assign({show: labels, customValues: X_LABELS, formatter: v => '{n|' + fmtX(v) + '}', margin: 6}, LABEL_STYLE),
      name: labels ? X_NAME : '', nameLocation: 'middle', nameGap: 36,
      nameTextStyle: {fontFamily: FONT, fontSize: 24, color: TEXT}});
    const xMinor = (pos) => Object.assign({}, base, {min: -50, max: 50, position: pos,
      axisTick: {show: true, inside: true, length: 6, customValues: X_MINOR, lineStyle: {color: FRAME, width: 1.2}},
      axisLabel: {show: false}});
    xAxes.push(xMajor('bottom', r === 2), xMinor('bottom'), xMajor('top', false), xMinor('top'));
    const yMajor = (pos, labels) => Object.assign({}, base, {min: yr.min, max: yr.max, interval: yr.major, position: pos,
      axisTick: {show: true, inside: true, length: 13, lineStyle: {color: FRAME, width: 1.4}},
      axisLabel: Object.assign({show: labels, formatter: v => '{n|' + fmtNum(v, r) + '}', margin: 6}, LABEL_STYLE),
      name: labels ? '{t|' + ROW_NAMES[r] + '}{s|-1}' : '', nameLocation: 'middle', nameGap: ROW_NAME_GAP[r],
      nameTextStyle: {fontFamily: FONT, color: TEXT, rich: {
        t: {fontFamily: FONT, fontSize: 23, color: TEXT, lineHeight: 26, verticalAlign: 'bottom'},
        s: {fontFamily: FONT, fontSize: 14, color: TEXT, lineHeight: 26, verticalAlign: 'top'}}}});
    const yMinor = (pos) => Object.assign({}, base, {min: yr.min, max: yr.max, interval: yr.minor, position: pos,
      axisTick: {show: true, inside: true, length: 6, lineStyle: {color: FRAME, width: 1.2}},
      axisLabel: {show: false}});
    yAxes.push(yMajor('left', c === 0), yMinor('left'), yMajor('right', false), yMinor('right'));
    PANEL_SERIES[r][c].forEach(s => {
      series.push({type: 'line', name: s.name, data: s.data, xAxisIndex: g * 4, yAxisIndex: g * 4,
        showSymbol: false, symbol: 'none', clip: true, silent: true,
        smooth: ROW_SMOOTH[r], smoothMonotone: 'x',
        lineStyle: {color: s.color, width: 1.7}, itemStyle: {color: s.color}});
    });
  }
}

const legendBase = {orient: 'vertical', left: 163, icon: 'none', itemWidth: 0, itemHeight: 14, itemGap: 3, padding: 0,
  selectedMode: false, textStyle: {fontFamily: FONT, fontSize: 23, lineHeight: 24}};
const legends = [
  Object.assign({}, legendBase, {top: 45, data: [{name: 'wmax', textStyle: {color: BLUE}}, {name: 'wmin', textStyle: {color: GREEN}}]}),
  Object.assign({}, legendBase, {top: 346, data: [{name: 'qr', textStyle: {color: RED}}, {name: 'qs', textStyle: {color: GREEN}}, {name: 'qg', textStyle: {color: BLUE}}]}),
  Object.assign({}, legendBase, {top: 646, data: [{name: 'qr0', textStyle: {color: RED}}]})
];

const titleLeft = [390, 775, 1159];
const titles = PANEL_TITLES.map((t, i) => ({text: t, left: titleLeft[i], top: 55, padding: 0,
  textStyle: {fontFamily: FONT, fontSize: 29, fontWeight: 'normal', color: TEXT}}));

const chart = echarts.init(document.getElementById('c'), null, {renderer: 'svg', width: 1225, height: 951});
chart.setOption({
  backgroundColor: '#ffffff',
  animation: false,
  textStyle: {fontFamily: FONT, color: TEXT},
  title: titles,
  legend: legends,
  grid: grids,
  xAxis: xAxes,
  yAxis: yAxes,
  series: series
});
</script>
</body>
</html>
